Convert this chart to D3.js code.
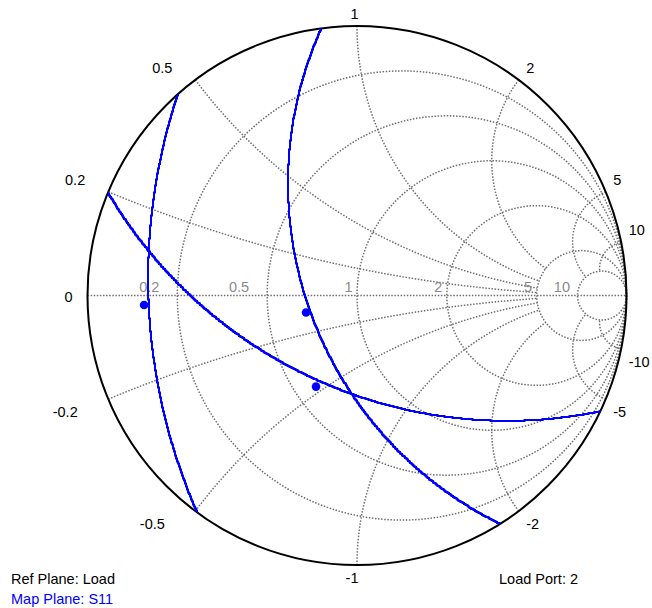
<!DOCTYPE html>
<html>
<head>
<meta charset="utf-8">
<script src="https://cdn.jsdelivr.net/npm/d3@7"></script>
<style>
  body { margin: 0; background: #fff; }
  text { font-family: "Liberation Sans", Arial, sans-serif; font-size: 14.5px; }
</style>
</head>
<body>
<div id="chart"></div>
<script>
// Smith chart grid values
const resistanceValues = [0.2, 0.5, 1, 2, 5, 10]
const resistanceLabels = ['0.2', '0.5', '1', '2', '5', '10']
const reactanceValues = [0.2, 0.5, 1, 2, 5, 10]
const reactanceLabels = ['0.2', '0.5', '1', '2', '5', '10']

// blue circles (reflection plane, center re/im and radius)
const circleCenterRe = [1.394, 1.150, 0.557]
const circleCenterIm = [0.064, 0.415, 1.253]
const circleRadius = [2.169, 1.406, 1.718]

// blue markers
const markerRe = [-0.790, -0.189, -0.152]
const markerIm = [-0.035, -0.063, -0.338]

// canvas
const width = 652,
  height = 608,
  cx = 357,
  cy = 295.5,
  R = 269.5

const gridColor = '#6f6f6f'
const blue = '#0000ff'

let svg = d3.select('#chart')
  .append('svg')
  .attr('width', width)
  .attr('height', height)
  .style('background', '#fff')

const xs = d3.scaleLinear().domain([-1, 1]).range([cx - R, cx + R])
const ys = d3.scaleLinear().domain([-1, 1]).range([cy + R, cy - R])

// z = r + jx  ->  gamma
let gamma = (r, x) => {
  const d = (r + 1) * (r + 1) + x * x
  return [(r * r + x * x - 1) / d, 2 * x / d]
}

svg.append('clipPath').attr('id', 'unit')
  .append('circle')
  .attr('cx', xs(0)).attr('cy', ys(0)).attr('r', xs(1) - xs(0))

const grid = svg.append('g')
  .attr('fill', 'none')
  .attr('stroke', gridColor)
  .attr('stroke-width', 1.5)
  .attr('stroke-dasharray', '1.5,1.6')

// real axis
grid.append('line')
  .attr('x1', xs(-1)).attr('x2', xs(1))
  .attr('y1', ys(0)).attr('y2', ys(0))

// constant resistance circles
grid.selectAll('circle.res')
  .data(resistanceValues)
  .enter()
  .append('circle')
  .attr('class', 'res')
  .attr('cx', d => xs(d / (1 + d)))
  .attr('cy', ys(0))
  .attr('r', d => xs(1 / (1 + d)) - xs(0))

// constant reactance arcs, cut at r = 5 (or r = 10 for the big ones)
const arcLine = d3.line().x(d => xs(d[0])).y(d => ys(d[1]))
const allReactance = reactanceValues.flatMap(v => [v, -v])
grid.selectAll('path.reac')
  .data(allReactance)
  .enter()
  .append('path')
  .attr('class', 'reac')
  .attr('d', x => {
    const rEnd = Math.abs(x) > 2 ? 10 : 5
    const pts = d3.range(0, 801).map(i => {
      const t = i / 800
      return gamma(rEnd * t * t, x)
    })
    return arcLine(pts)
  })

// outer circle
svg.append('circle')
  .attr('cx', xs(0)).attr('cy', ys(0)).attr('r', xs(1) - xs(0))
  .attr('fill', 'none')
  .attr('stroke', '#000')
  .attr('stroke-width', 2)

// resistance labels on the axis
svg.selectAll('text.rlab')
  .data(resistanceValues)
  .enter()
  .append('text')
  .attr('class', 'rlab')
  .attr('fill', '#8a8a8a')
  .attr('text-anchor', 'end')
  .attr('x', (d, i) => {
    const lab = resistanceLabels[i]
    const gap = lab.includes('.') ? 18 : 1.5 + 3 * lab.length
    return xs((d - 1) / (d + 1)) - gap
  })
  .attr('y', ys(0) - 4)
  .text((d, i) => resistanceLabels[i])

// reactance labels round the rim
const reacLabelData = reactanceValues.flatMap((v, i) => [
  { x: v, label: reactanceLabels[i] },
  { x: -v, label: '-' + reactanceLabels[i] }
])
svg.selectAll('text.xlab')
  .data(reacLabelData)
  .enter()
  .append('text')
  .attr('class', 'xlab')
  .attr('fill', '#000')
  .each(function (d) {
    const g = gamma(0, d.x)
    const px = xs(g[0]), py = ys(g[1])
    let anchor, tx
    if (Math.abs(g[0]) < 0.05) { anchor = 'end'; tx = px + 1.5 }
    else if (g[0] > 0) { anchor = 'start'; tx = px + 7.5 }
    else { anchor = 'end'; tx = px - (d.x > 0 ? 23 : 30.5) }
    d3.select(this)
      .attr('text-anchor', anchor)
      .attr('x', tx)
      .attr('y', d.x > 0 ? py - 7.3 : py + 18)
  })
  .text(d => d.label)

svg.append('text')
  .attr('text-anchor', 'end')
  .attr('x', xs(-1) - 15)
  .attr('y', ys(0) + 6)
  .text('0')

// blue circles, drawn on the pixel grid like the original
const stepLine = d3.line().curve(d3.curveStep)
const circles = d3.range(circleRadius.length).map(i => ({
  re: circleCenterRe[i], im: circleCenterIm[i], rad: circleRadius[i]
}))
svg.append('g')
  .attr('clip-path', 'url(#unit)')
  .selectAll('path')
  .data(circles)
  .enter()
  .append('path')
  .attr('fill', 'none')
  .attr('stroke', blue)
  .attr('stroke-width', 2)
  .attr('d', c => {
    const pxR = xs(c.rad) - xs(0)
    const n = Math.ceil(2 * Math.PI * pxR)
    const pts = d3.range(n + 1).map(k => {
      const a = 2 * Math.PI * k / n
      return [Math.round(xs(c.re + c.rad * Math.cos(a))),
        Math.round(ys(c.im + c.rad * Math.sin(a)))]
    })
    return stepLine(pts)
  })

svg.selectAll('circle.marker')
  .data(markerRe)
  .enter()
  .append('circle')
  .attr('class', 'marker')
  .attr('cx', d => xs(d))
  .attr('cy', (d, i) => ys(markerIm[i]))
  .attr('r', 4.3)
  .attr('fill', blue)

// footer notes
svg.append('text').attr('x', 11).attr('y', 583.5).attr('fill', '#000').text('Ref Plane: Load')
svg.append('text').attr('x', 11).attr('y', 603.5).attr('fill', blue).text('Map Plane: S11')
svg.append('text').attr('x', 499).attr('y', 583.5).attr('fill', '#000').text('Load Port: 2')
</script>
</body>
</html>
